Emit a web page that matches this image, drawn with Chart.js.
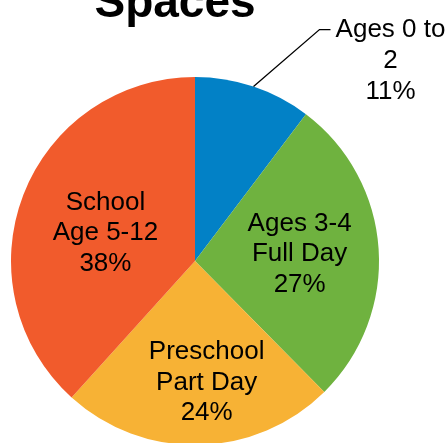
<!DOCTYPE html>
<html>
<head>
<meta charset="utf-8">
<script src="https://cdn.jsdelivr.net/npm/chart.js@4.4.1/dist/chart.umd.min.js"></script>
<style>
  html, body { margin: 0; padding: 0; background: #fff; overflow: hidden; }
  #wrap { width: 448px; height: 443px; overflow: hidden; }
  canvas { display: block; }
</style>
</head>
<body>
<div id="wrap"><canvas id="pie" width="448" height="447"></canvas></div>
<script>
// Child care spaces by age group — pie
(function () {
  'use strict';

  const TITLE = 'Spaces';
  const CATEGORIES = [['Ages 0 to', '2'], ['Ages 3-4', 'Full Day'], ['Preschool', 'Part Day'], ['School', 'Age 5-12']];
  const VALUES = [10.3, 27.3, 24.1, 38.3];
  const PCT_LABELS = ['11%', '27%', '24%', '38%'];
  const COLORS = ['#0281C6', '#6FB23F', '#F7B235', '#F15B2C'];

  const FONT = "'Liberation Sans', Arial, Helvetica, sans-serif";

  // where each label sits: fraction of the radius along the slice's mid-angle
  const labelPlace = [
    null,                       // outside, with leader line
    { r: 0.57, dx: 0, dy: 0 },
    { r: 0.66, dx: 9, dy: 0 },
    { r: 0.51, dx: -2, dy: 6 },
  ];

  function drawLines(ctx, lines, x, yMid, lh) {
    const y0 = yMid - (lines.length - 1) * lh / 2;
    lines.forEach(function (t, i) { ctx.fillText(t, x, y0 + i * lh); });
  }

  const labelPlugin = {
    id: 'pieLabels',
    afterDraw: function (chart) {
      const ctx = chart.ctx;
      const arcs = chart.getDatasetMeta(0).data;
      ctx.save();

      // title (top is cut off in the original picture)
      ctx.fillStyle = '#000';
      ctx.font = 'bold 46px ' + FONT;
      ctx.textAlign = 'center';
      ctx.textBaseline = 'alphabetic';
      ctx.fillText(TITLE, 175, 17);

      ctx.font = '26px ' + FONT;
      ctx.textBaseline = 'middle';
      const lh = 30.5;

      arcs.forEach(function (arc, i) {
        const p = arc.getProps(['x', 'y', 'startAngle', 'endAngle', 'outerRadius'], true);
        const mid = (p.startAngle + p.endAngle) / 2;
        const lines = CATEGORIES[i].concat([PCT_LABELS[i]]);
        const place = labelPlace[i];
        if (place) {
          const x = p.x + Math.cos(mid) * p.outerRadius * place.r + place.dx;
          const y = p.y + Math.sin(mid) * p.outerRadius * place.r + place.dy;
          drawLines(ctx, lines, x, y, lh);
        } else {
          // outside label with leader line
          const sx = p.x + Math.cos(mid) * p.outerRadius;
          const sy = p.y + Math.sin(mid) * p.outerRadius;
          const ex = sx + 66, ey = sy - 57;
          ctx.strokeStyle = '#000';
          ctx.lineWidth = 1.3;
          ctx.beginPath();
          ctx.moveTo(sx, sy);
          ctx.lineTo(ex, ey);
          ctx.lineTo(ex + 11, ey);
          ctx.stroke();
          drawLines(ctx, lines, ex + 71, ey + 31, 31);
        }
      });
      ctx.restore();
    },
  };

  new Chart(document.getElementById('pie'), {
    type: 'pie',
    data: {
      labels: CATEGORIES.map(function (c) { return c.join(' '); }),
      datasets: [{
        data: VALUES,
        backgroundColor: COLORS,
        borderWidth: 0,
        hoverOffset: 0,
      }],
    },
    options: {
      responsive: false,
      animation: false,
      devicePixelRatio: 1,
      layout: { padding: { left: 11, right: 69, top: 77, bottom: 2 } },
      plugins: {
        legend: { display: false },
        tooltip: { enabled: false },
        title: { display: false },
      },
    },
    plugins: [labelPlugin],
  });
})();
</script>
</body>
</html>
